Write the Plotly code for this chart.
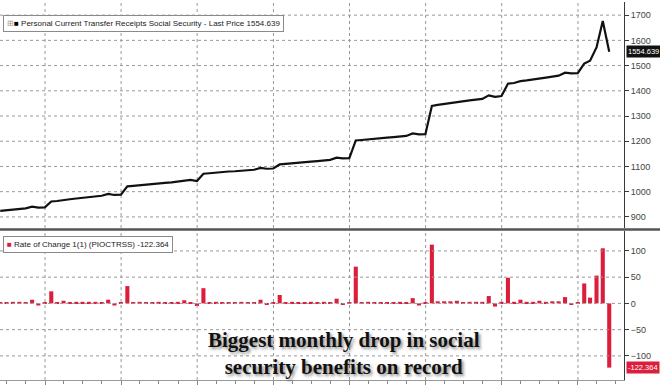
import pandas as pd
import plotly.graph_objects as go

# Monthly data, May 2017 - May 2025 (month-end dates)
dates = pd.date_range("2017-05-31", periods=97, freq="ME")

level = [
    924, 926, 929, 932, 934, 941, 937, 938,                      # 2017 May-Dec
    961, 963, 968, 970, 973, 976, 979, 982, 984, 991, 987, 988,  # 2018
    1021, 1023, 1026, 1028, 1030, 1033, 1035, 1037, 1040, 1046, 1047, 1042,  # 2019
    1071, 1073, 1076, 1078, 1080, 1081, 1084, 1086, 1087, 1094, 1091, 1092,  # 2020
    1108, 1110, 1113, 1114, 1116, 1119, 1121, 1124, 1126, 1135, 1132, 1133,  # 2021
    1203, 1205, 1208, 1210, 1212, 1214, 1216, 1219, 1221, 1231, 1227, 1228,  # 2022
    1340, 1344, 1348, 1352, 1357, 1359, 1362, 1365, 1368, 1382, 1376, 1379,  # 2023
    1428, 1431, 1438, 1441, 1444, 1449, 1452, 1456, 1460, 1472, 1469, 1470,  # 2024
    1508, 1519, 1572, 1677.003, 1554.639,                        # 2025 Jan-May
]

change = [
    1, 2, 3, 3, 2, 7, -4, 1,
    23, 2, 5, 2, 3, 3, 3, 3, 2, 7, -4, 1,
    33, 2, 3, 2, 2, 3, 2, 2, 3, 6, 1, -5,
    29, 2, 3, 2, 2, 1, 3, 2, 1, 7, -3, 1,
    16, 2, 3, 1, 2, 3, 2, 3, 2, 9, -3, 1,
    70, 2, 3, 2, 2, 2, 2, 3, 2, 10, -4, 1,
    112, 4, 4, 4, 5, 2, 3, 3, 3, 14, -6, 3,
    49, 3, 7, 3, 3, 5, 3, 4, 4, 12, -3, 1,
    38, 11, 53, 105.003, -122.364,
]

top_ticks = [900, 1000, 1100, 1200, 1300, 1400, 1500, 1600, 1700]
bot_ticks = [-100, -50, 0, 50, 100]
year_starts = ["2018-01-01", "2019-01-01", "2020-01-01", "2021-01-01",
               "2022-01-01", "2023-01-01", "2024-01-01", "2025-01-01"]

RED = "#dc1e3c"
GRID = "#999999"
AX = "#3a3a3a"
FONT = "Liberation Sans"
xr = ["2017-05-30", "2025-08-10"]
yr_top = [856, 1752]
yr_bot = [-146, 138]


def grid_trace(xa, ya, yticks, yrange):
    xs, ys = [], []
    for v in yticks:
        xs += [xr[0], xr[1], None]
        ys += [v, v, None]
    for d in year_starts:
        xs += [d, d, None]
        ys += [yrange[0], yrange[1], None]
    return go.Scatter(x=xs, y=ys, mode="lines", xaxis=xa, yaxis=ya,
                      line=dict(color=GRID, width=1, dash="dot"),
                      hoverinfo="skip", showlegend=False)


fig = go.Figure()
fig.add_trace(grid_trace("x", "y", top_ticks, yr_top))
fig.add_trace(grid_trace("x2", "y2", bot_ticks, yr_bot))
fig.add_trace(go.Scatter(x=dates, y=level, mode="lines",
                         line=dict(color="#111111", width=2.2),
                         xaxis="x", yaxis="y", showlegend=False))
fig.add_trace(go.Bar(x=dates, y=change, marker=dict(color=RED, line=dict(width=0)),
                     xaxis="x2", yaxis="y2", showlegend=False))

xcommon = dict(range=xr, type="date", showgrid=False,
               tick0="2018-01-01", dtick="M12", zeroline=False)

fig.update_layout(
    width=660, height=386, margin=dict(l=0, r=0, t=0, b=0),
    paper_bgcolor="white", plot_bgcolor="white", bargap=0.3,
    font=dict(family=FONT, size=9, color="#333"),
    xaxis=dict(domain=[0, 0.9455], anchor="y", showticklabels=False, ticks="",
               showline=False, **xcommon),
    xaxis2=dict(domain=[0, 0.9455], anchor="y2", matches="x", showticklabels=False,
                ticks="outside", ticklen=4, tickcolor="#888",
                showline=True, linecolor="#999", linewidth=1,
                minor=dict(dtick="M3", ticks="outside", ticklen=3, tickcolor="#888"),
                **xcommon),
    yaxis=dict(domain=[0.4093, 0.9948], anchor="x", side="right", range=yr_top,
               tickvals=top_ticks, ticks="outside", ticklen=4, tickcolor=AX,
               showline=True, linecolor=AX, linewidth=1, showgrid=False, zeroline=False,
               tickfont=dict(family=FONT, size=9, color="#444")),
    yaxis2=dict(domain=[0.0155, 0.4016], anchor="x2", side="right", range=yr_bot,
                tickvals=bot_ticks, ticks="outside", ticklen=4, tickcolor=AX,
                showline=True, linecolor=AX, linewidth=1, showgrid=False, zeroline=False,
                tickfont=dict(family=FONT, size=9, color="#444")),
)

# separator between panels
fig.add_shape(type="line", xref="paper", yref="paper", x0=0, x1=1, y0=0.4055, y1=0.4055,
              line=dict(color="#555", width=2.5))

annos = [
    # legend boxes
    dict(xref="paper", yref="paper", x=0.005, y=0.939, xanchor="left", yanchor="middle",
         text="<span style='color:#999'>⊞</span><span style='color:#000'>■</span> Personal Current Transfer Receipts Social Security - Last Price 1554.639",
         showarrow=False, bgcolor="white", bordercolor="#8a8a8a", borderwidth=1, borderpad=3,
         font=dict(family=FONT, size=8, color="#222")),
    dict(xref="paper", yref="paper", x=0.005, y=0.366, xanchor="left", yanchor="middle",
         text=f"<span style='color:{RED}'>■</span> Rate of Change 1(1) (PIOCTRSS) -122.364",
         showarrow=False, bgcolor="white", bordercolor="#8a8a8a", borderwidth=1, borderpad=3,
         font=dict(family=FONT, size=8, color="#222")),
    # last-value tags
    dict(xref="paper", yref="y", x=0.9485, y=level[-1], xanchor="left", yanchor="middle",
         text=f"{level[-1]:.3f}", showarrow=False, bgcolor="#111", borderpad=1,
         font=dict(family=FONT, size=7.5, color="white")),
    dict(xref="paper", yref="y2", x=0.9485, y=change[-1], xanchor="left", yanchor="middle",
         text=f"{change[-1]:.3f}", showarrow=False, bgcolor=RED, borderpad=1,
         font=dict(family=FONT, size=7.5, color="white")),
    # headline
    dict(xref="paper", yref="paper", x=0.521, y=0.083, xanchor="center", yanchor="middle",
         text="<b>Biggest monthly drop in social<br>security benefits on record</b>",
         showarrow=False, align="center",
         font=dict(family="Liberation Serif", size=21, color="#111",
                   shadow="2px 2px 3px rgba(0,0,0,0.45)")),
]
for a in annos:
    fig.add_annotation(**a)

fig.write_html("out.html")
